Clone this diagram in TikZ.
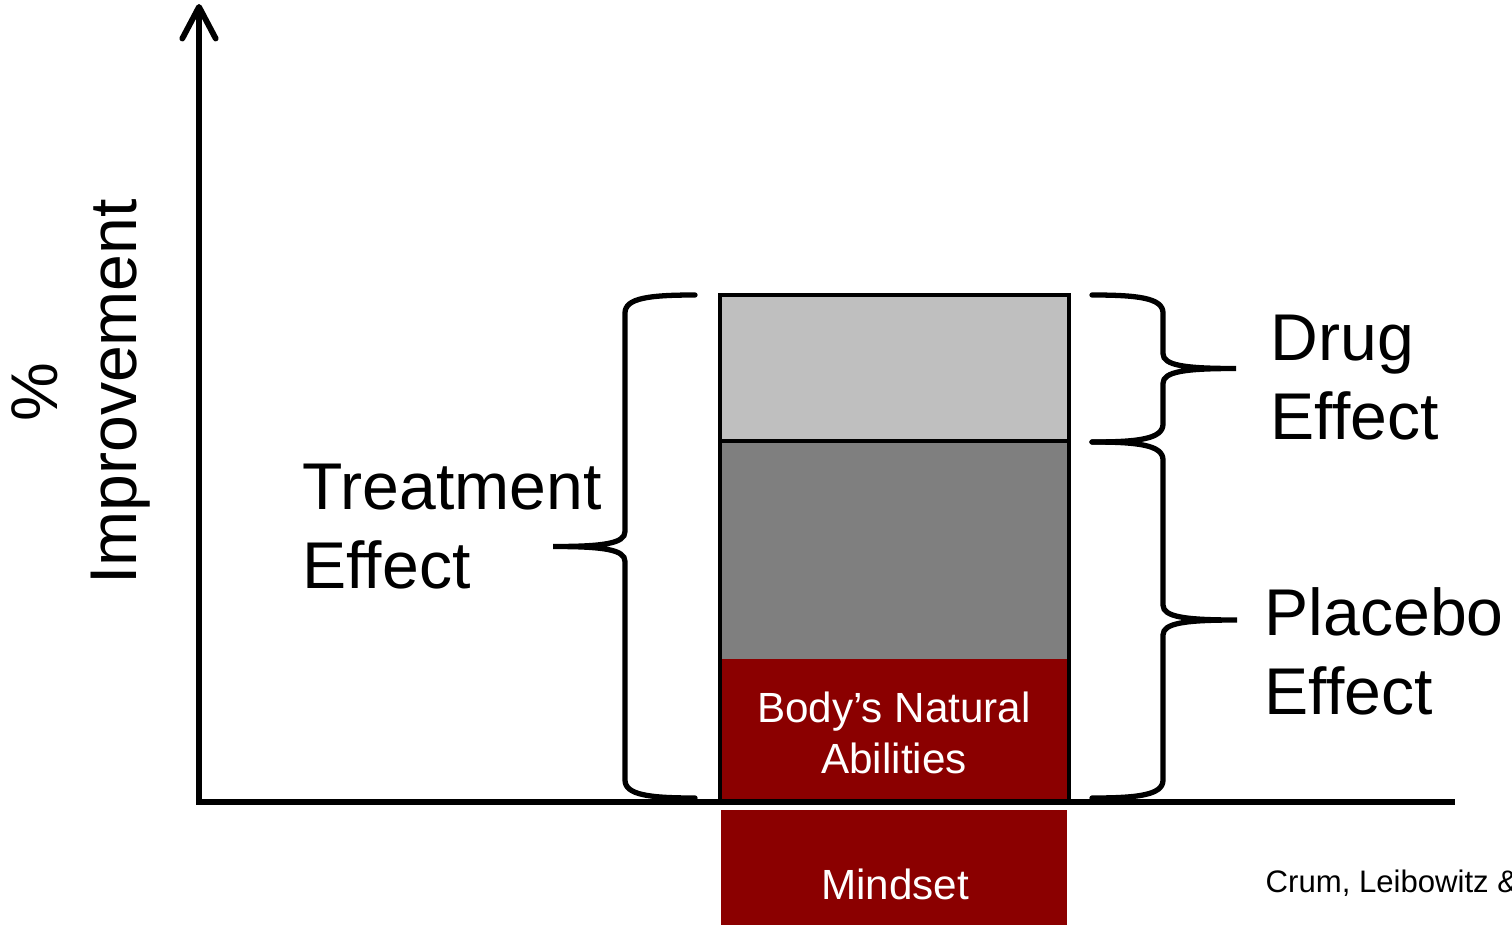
\documentclass[tikz,border=0pt]{standalone}
\usepackage{fontspec}
\setmainfont{Liberation Sans}
\usetikzlibrary{arrows.meta}
\tikzstyle{pixelGrid} = [x = 0.01cm, y = -0.01cm]
\definecolor{drugGray}{RGB}{191,191,191}
\definecolor{placeboGray}{RGB}{127,127,127}
\definecolor{bodyRed}{RGB}{139,0,0}
\tikzstyle{axisLine} = [line width=1.65pt]
\tikzstyle{barOutline} = [line width=1.4pt]
\tikzstyle{braceLine} = [line width=1.5pt, line cap=round]
\tikzstyle{bigText} = [font=\fontsize{18.8}{22.5}\selectfont, align=left, inner sep=0pt]
\tikzstyle{barText} = [font=\fontsize{12}{14.5}\selectfont, align=center, inner sep=0pt, text=white]
\tikzstyle{smallText} = [font=\fontsize{8.85}{10}\selectfont, inner sep=0pt]
\newcommand{\curlyBrace}[5]{
  \pgfmathsetmacro{\braceMid}{(#4 + #5) / 2}
  \pgfmathsetmacro{\braceBend}{#2 + 0.35 * (#1 - #2)}
  \pgfmathsetmacro{\cuspBend}{#2 + 0.3 * (#3 - #2)}
  \draw [braceLine] (#1, #4)
    .. controls (\braceBend, #4) and (#2, #4 + 3) .. (#2, #4 + 18)
    -- (#2, \braceMid - 15)
    .. controls (#2, \braceMid - 3) and (\cuspBend, \braceMid) .. (#3, \braceMid)
    .. controls (\cuspBend, \braceMid) and (#2, \braceMid + 3) .. (#2, \braceMid + 15)
    -- (#2, #5 - 18)
    .. controls (#2, #5 - 3) and (\braceBend, #5) .. (#1, #5);
}

\begin{document}
\begin{tikzpicture}[pixelGrid]
  \useasboundingbox (0, 0) rectangle (1512, 924);

  % stacked bar
  \fill [drugGray] (720, 295) rectangle (1069, 441);
  \fill [placeboGray] (720, 441) rectangle (1069, 659);
  \fill [bodyRed] (720, 659) rectangle (1069, 802);
  \draw [barOutline] (720, 295) rectangle (1069, 802);
  \draw [barOutline] (720, 441) -- (1069, 441);
  \fill [bodyRed] (721, 810) rectangle (1067, 930);

  % axes
  \coordinate (origin) at (199, 802);
  \coordinate (yTop) at (199, 4);
  \coordinate (xStart) at (196, 802);
  \coordinate (xEnd) at (1455, 802);
  \draw [axisLine, -{Straight Barb[length=9pt, width=9.5pt, round]}] (origin) -- (yTop);
  \draw [axisLine] (xStart) -- (xEnd);

  % braces
  \curlyBrace{695}{625}{553}{295}{798}
  \curlyBrace{1092}{1163}{1236}{295}{442}
  \curlyBrace{1092}{1163}{1237}{442}{798}

  \node [bigText, rotate=90, align=center] (yLabel) at (81, 392) {\%\\Improvement};
  \node [bigText, anchor=west] (treatmentLabel) at (302, 527) {Treatment\\Effect};
  \node [bigText, anchor=west] (drugLabel) at (1270, 378) {Drug\\Effect};
  \node [bigText, anchor=west] (placeboLabel) at (1264, 651) {Placebo\\Effect};
  \node [barText] (bodyLabel) at (894, 733) {Body’s Natural\\Abilities};
  \node [barText] (mindsetLabel) at (895, 884) {Mindset};
  \node [smallText, anchor=base west] (creditLabel) at (1265, 892) {Crum, Leibowitz \&};
\end{tikzpicture}
\end{document}
